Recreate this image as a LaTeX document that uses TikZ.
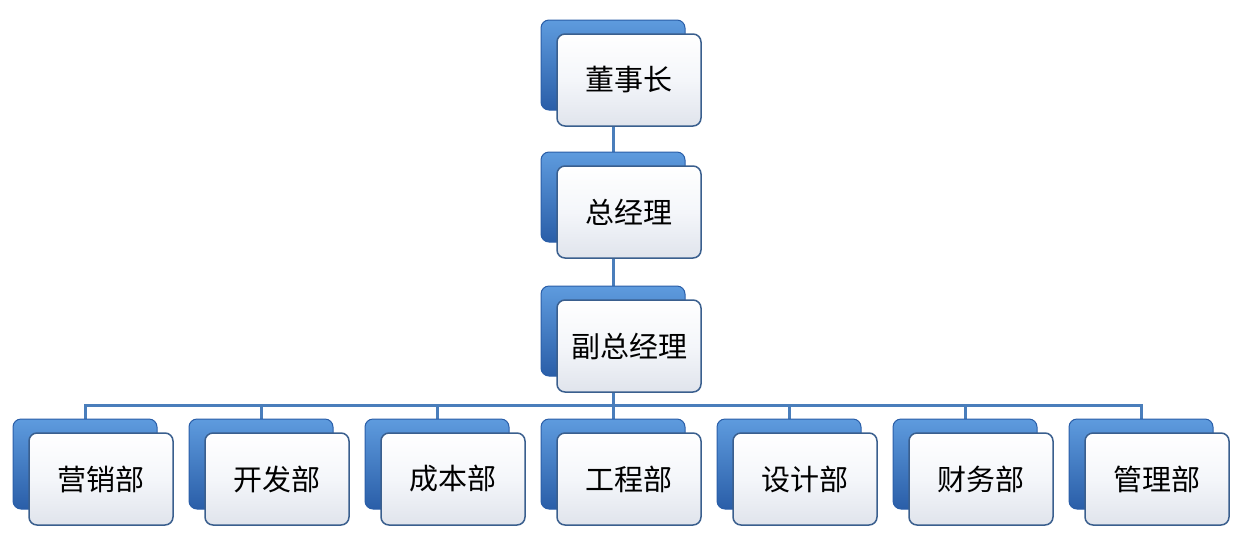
\documentclass[tikz,border=0pt]{standalone}
\usepackage{fontspec}
\newfontfamily\cjk{Noto Sans CJK SC}
\usetikzlibrary{positioning, backgrounds}
\definecolor{BoxBlueLight}{HTML}{5E9BDE}
\definecolor{BoxBlueDark}{HTML}{2A5EA8}
\definecolor{EdgeBlue}{HTML}{3A5F8E}
\definecolor{LineBlue}{HTML}{4A7EBB}
\definecolor{CardGray}{HTML}{E0E4EC}
\definecolor{CardMid}{HTML}{F4F6FA}

\tikzset{
    backbox/.style={draw=BoxBlueDark, line width=1pt, rounded corners=8pt,
          top color=BoxBlueLight, bottom color=BoxBlueDark,
          minimum width=144pt, minimum height=90pt},
    cardbox/.style={draw=EdgeBlue, line width=1.5pt, rounded corners=8pt,
          top color=white, bottom color=CardGray, middle color=CardMid,
          minimum width=144pt, minimum height=92pt,
          font=\cjk\fontsize{29}{32}\selectfont},
    link/.style={draw=LineBlue, line width=3pt}
}

\begin{document}
\begin{tikzpicture}[x=1pt, y=-1pt]
    \useasboundingbox (0,0) rectangle (1237,539);

    % top of the chart
    \node[backbox] (dsz-b) at (613,65) {};
    \node[cardbox] (dsz) at ([shift={(16,15)}]dsz-b) {董事长};
    \node[backbox] (zjl-b) at (613,197) {};
    \node[cardbox] (zjl) at ([shift={(16,15)}]zjl-b) {总经理};
    \node[backbox] (fzjl-b) at (613,331) {};
    \node[cardbox] (fzjl) at ([shift={(16,15)}]fzjl-b) {副总经理};

    % departments
    \foreach \dept [count=\i from 0] in {营销部, 开发部, 成本部, 工程部, 设计部, 财务部, 管理部} {
        \node[backbox] (d\i-b) at (85+176*\i,464) {};
        \node[cardbox] (d\i) at ([shift={(16,15)}]d\i-b) {\dept};
    }

    \coordinate (bus) at (613,405);
    \begin{scope}[on background layer]
        \draw[link] (dsz-b) -- (zjl-b);
        \draw[link] (zjl-b) -- (fzjl-b);
        \foreach \i in {0,...,6}
            \draw[link] (fzjl-b.center) -- (bus) -| (d\i-b.center);
    \end{scope}
\end{tikzpicture}
\end{document}
